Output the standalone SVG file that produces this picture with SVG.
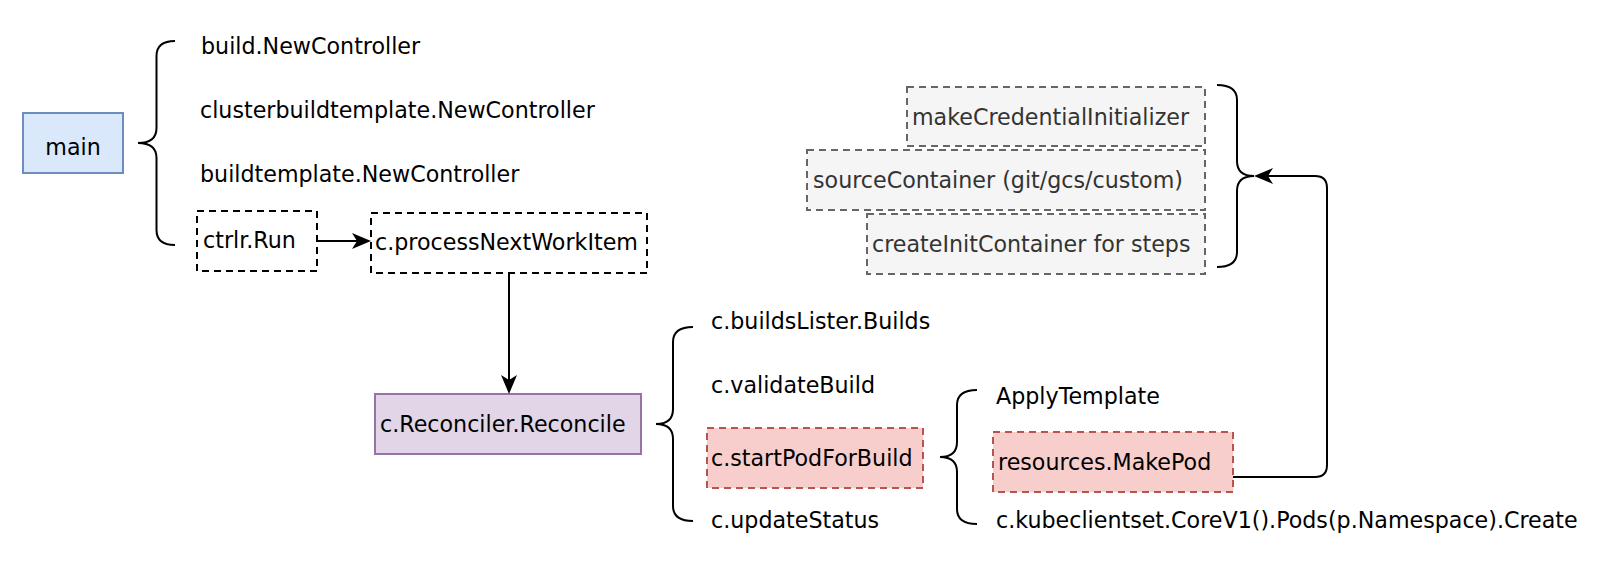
<svg xmlns="http://www.w3.org/2000/svg" width="1616" height="580" viewBox="0 0 1616 580">
<style>
text{font-family:"DejaVu Sans","Liberation Sans",sans-serif;font-size:22.2px;fill:#000}
.g text{fill:#333}
.brace{fill:none;stroke:#000;stroke-width:2}
.conn{fill:none;stroke:#000;stroke-width:2}
.dash{fill:#fff;stroke:#000;stroke-width:2;stroke-dasharray:7 5}
.gray{fill:#f5f5f5;stroke:#666;stroke-width:2;stroke-dasharray:7 5}
.red{fill:#f8cecc;stroke:#b85450;stroke-width:2;stroke-dasharray:7 5}
</style>
<defs>
<marker id="arr" markerUnits="userSpaceOnUse" markerWidth="20" markerHeight="18" viewBox="0 0 20 18" refX="14" refY="9" orient="auto">
<path d="M0,1 L19,9 L0,17 L5,9 Z" fill="#000"/>
</marker>
</defs>
<rect width="1616" height="580" fill="#fff"/>

<g id="main"><rect x="23" y="113" width="100" height="60" fill="#dae8fc" stroke="#6c8ebf" stroke-width="2"/><text x="73" y="155" text-anchor="middle">main</text></g>

<g id="brace1"><path class="brace" d="M175,41 Q156.5,41 156.5,56 L156.5,128 Q156.5,143 138,143 Q156.5,143 156.5,158 L156.5,230 Q156.5,245 175,245"/></g>

<g id="build-newcontroller"><text x="201" y="54">build.NewController</text></g>
<g id="clusterbuildtemplate-newcontroller"><text x="200" y="118">clusterbuildtemplate.NewController</text></g>
<g id="buildtemplate-newcontroller"><text x="200" y="182">buildtemplate.NewController</text></g>

<g id="ctrlr-run"><rect class="dash" x="197" y="211" width="120" height="60"/><text x="203" y="248">ctrlr.Run</text></g>
<g id="process-next-work-item"><rect class="dash" x="371" y="213" width="276" height="60"/><text x="375" y="250">c.processNextWorkItem</text></g>

<g id="reconcile"><rect x="375" y="394" width="266" height="60" fill="#e1d5e7" stroke="#9673a6" stroke-width="2"/><text x="380" y="432">c.Reconciler.Reconcile</text></g>

<g id="brace2"><path class="brace" d="M693,327 Q673,327 673,342 L673,409 Q673,424 656,424 Q673,424 673,439 L673,506 Q673,521 693,521"/></g>

<g id="builds-lister"><text x="711" y="329">c.buildsLister.Builds</text></g>
<g id="validate-build"><text x="711" y="393">c.validateBuild</text></g>
<g id="start-pod-for-build"><rect class="red" x="707" y="428" width="216" height="60"/><text x="711" y="466">c.startPodForBuild</text></g>
<g id="update-status"><text x="711" y="528">c.updateStatus</text></g>

<g id="brace3"><path class="brace" d="M977,390 Q957,390 957,405 L957,442 Q957,457 940,457 Q957,457 957,472 L957,509 Q957,524 977,524"/></g>

<g id="apply-template"><text x="996" y="404">ApplyTemplate</text></g>
<g id="make-pod"><rect class="red" x="993" y="432" width="240" height="60"/><text x="998" y="470">resources.MakePod</text></g>
<g id="pods-create"><text x="996" y="528">c.kubeclientset.CoreV1().Pods(p.Namespace).Create</text></g>

<g id="make-credential-initializer" class="g"><rect class="gray" x="907" y="87" width="298" height="59"/><text x="912" y="125">makeCredentialInitializer</text></g>
<g id="source-container" class="g"><rect class="gray" x="807" y="150" width="398" height="60"/><text x="813" y="188">sourceContainer (git/gcs/custom)</text></g>
<g id="create-init-container" class="g"><rect class="gray" x="867" y="214" width="338" height="60"/><text x="872" y="252">createInitContainer for steps</text></g>

<g id="brace4"><path class="brace" d="M1217,85 Q1237,85 1237,100 L1237,161 Q1237,176 1254,176 Q1237,176 1237,191 L1237,252 Q1237,267 1217,267"/></g>

<g id="connectors">
<path class="conn" d="M317,241 L366,241" marker-end="url(#arr)"/>
<path class="conn" d="M509,273 L509,389" marker-end="url(#arr)"/>
<path class="conn" d="M1233,477 L1315,477 Q1327,477 1327,465 L1327,188 Q1327,176 1315,176 L1259,176" marker-end="url(#arr)"/>
</g>
</svg>
